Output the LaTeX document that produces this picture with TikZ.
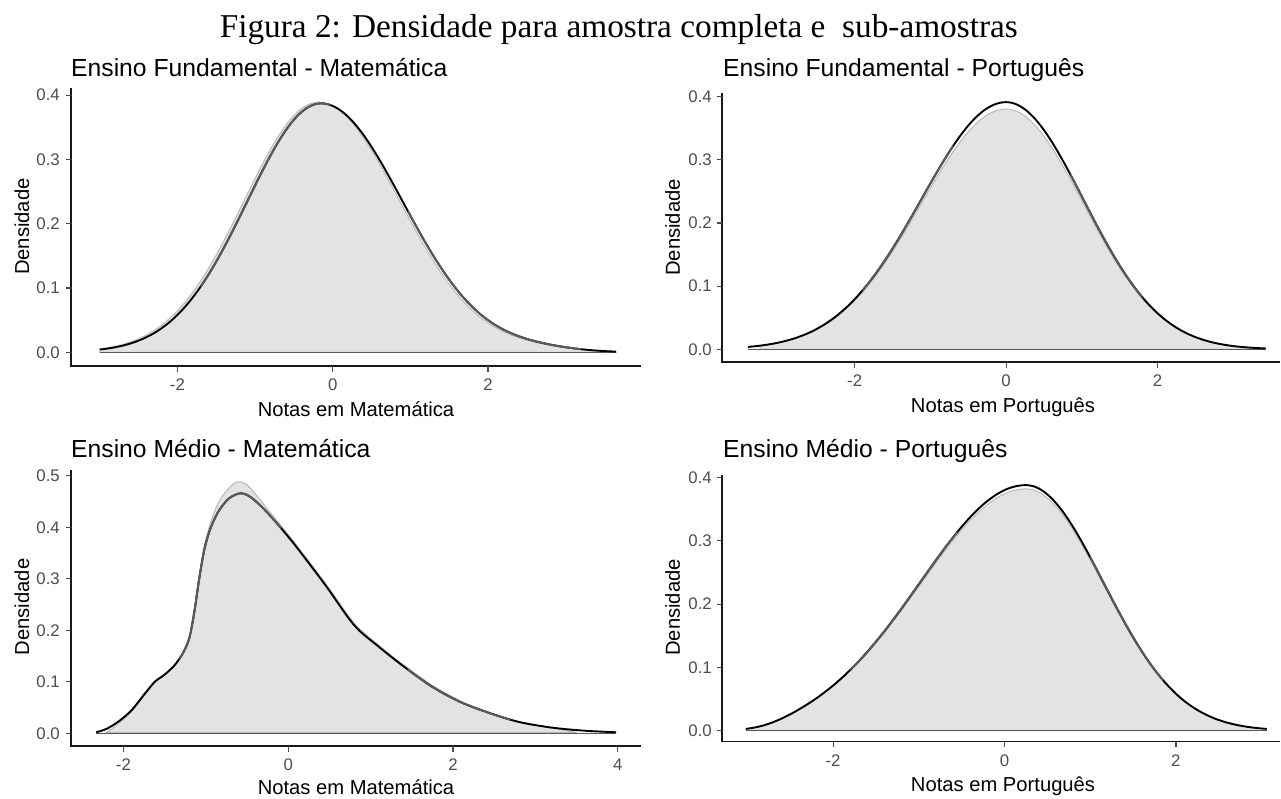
\documentclass[tikz,border=0pt]{standalone}
\usepackage{fontspec}
\setmainfont{Liberation Serif}
\setsansfont{Liberation Sans}
\definecolor{fillg}{RGB}{227,227,227}
\definecolor{edgeg}{RGB}{185,185,185}
\definecolor{lineg}{RGB}{90,90,90}
\definecolor{tickg}{RGB}{77,77,77}
\definecolor{axisc}{RGB}{25,25,25}
\newcommand\FunA{sn(\x,-0.15,0.95,1.05,0.387)+0.005*gs((\x-2.6)/0.5)}
\newcommand\FunAf{sn(\x,-0.18,0.96,1.04,0.389)+0.005*gs((\x-2.6)/0.5)}
\newcommand\FunB{sn(\x,0,1.12,1.02,0.391)}
\newcommand\FunBf{sn(\x,0,1.12,1.02,0.380)}
\newcommand\FunD{sn(\x,0.25,1.23,0.9,0.388)/(1+exp(-5*(\x+2.8)))}
\newcommand\FunDf{sn(\x,0.25,1.23,0.9,0.382)/(1+exp(-5*(\x+2.8)))}
\newcommand\CurC{(-2.33,0.002) (-2.2,0.009) (-2.05,0.024) (-1.9,0.045) (-1.75,0.075) (-1.62,0.1) (-1.5,0.114) (-1.38,0.132) (-1.28,0.155) (-1.2,0.185) (-1.14,0.235) (-1.08,0.3) (-1.02,0.355) (-0.95,0.395) (-0.85,0.43) (-0.72,0.456) (-0.58,0.466) (-0.45,0.458) (-0.25,0.428) (0.05,0.372) (0.45,0.288) (0.8,0.21) (1.1,0.168) (1.4,0.13) (1.75,0.09) (2.1,0.06) (2.45,0.039) (2.8,0.022) (3.2,0.011) (3.6,0.005) (3.98,0.002)}
\newcommand\CurCf{(-2.2,0.002) (-2.05,0.02) (-1.9,0.042) (-1.75,0.072) (-1.62,0.098) (-1.5,0.113) (-1.38,0.131) (-1.28,0.155) (-1.2,0.186) (-1.14,0.238) (-1.08,0.305) (-1.02,0.362) (-0.95,0.405) (-0.85,0.447) (-0.72,0.476) (-0.62,0.488) (-0.52,0.485) (-0.4,0.465) (-0.25,0.435) (0.05,0.376) (0.45,0.292) (0.8,0.214) (1.1,0.171) (1.4,0.133) (1.75,0.093) (2.1,0.062) (2.45,0.04) (2.8,0.023) (3.2,0.011) (3.5,0.002)}
\begin{document}
\begin{tikzpicture}[x=1pt,y=-1pt,
  declare function={
    gs(\z)=exp(-0.5*\z*\z);
    sn(\xx,\mA,\sL,\sR,\pK)=\pK*gs((\xx-\mA)/(\sL+(\sR-\sL)*(\xx>\mA)));
  },
  mtitle/.style={font=\fontsize{33.3}{34}\selectfont, anchor=base, inner sep=0},
  ptitle/.style={font=\sffamily\fontsize{24.7}{25}\selectfont, anchor=base west, inner sep=0},
  ylab/.style={font=\sffamily\fontsize{16.8}{17}\selectfont, text=tickg, anchor=east, inner sep=0},
  xlab/.style={font=\sffamily\fontsize{16.8}{17}\selectfont, text=tickg, anchor=base, inner sep=0},
  atitle/.style={font=\sffamily\fontsize{20.2}{20}\selectfont, anchor=base, inner sep=0},
  ytitle/.style={font=\sffamily\fontsize{20.2}{20}\selectfont, rotate=90, inner sep=0},
  axisline/.style={draw=axisc, line width=1.4pt},
  tickline/.style={draw=tickg, line width=1.2pt},
  dfill/.style={fill=fillg, draw=edgeg, line width=1pt},
  gline/.style={draw=lineg, line width=1.9pt, line join=round},
  bline/.style={draw=black, line width=1.9pt, line join=round},
  zeroline/.style={draw=lineg, line width=1.4pt}
]
\useasboundingbox (0,0) rectangle (1281,798);
\fill[white] (0,0) rectangle (1281,798);

\node[mtitle] (fig) at (618.8,37.7) {Figura 2: Densidade para amostra completa e\ \ sub-amostras};

% ---------------- Panel 1 ----------------
\node[ptitle] (t1) at (71,76) {Ensino Fundamental - Matemática};
\begin{scope}[shift={(332.7,352.3)}, xscale=77.65, yscale=-643]
  \path[dfill] (-3,0) -- plot[domain=-3:3.65,samples=180] (\x,{\FunAf}) -- (3.65,0) -- cycle;
  \draw[zeroline] (-3,0) -- (3.65,0);
  \draw[bline] plot[domain=-3:3.65,samples=180] (\x,{\FunA});
  \begin{scope}
    \clip (-1.7,-0.1) rectangle (-0.03,0.5) (0.97,-0.1) rectangle (3.2,0.5);
    \draw[gline] plot[domain=-3:3.65,samples=180] (\x,{\FunA});
  \end{scope}
\end{scope}
\draw[axisline] (71,88) |- (641,366);
\foreach \k in {0,...,4}{
  \draw[tickline] (65.5,{352.3-64.3*\k}) -- (71,{352.3-64.3*\k});
  \node[ylab] (p1y\k) at (60,{352.3-64.3*\k}) {0.\k};
}
\foreach \v/\t [count=\i] in {-2/-2,0/0,2/2}{
  \draw[tickline] ({332.7+77.65*\v},366) -- ({332.7+77.65*\v},371.5);
  \node[xlab] (p1x\i) at ({332.7+77.65*\v},390) {\t};
}
\node[atitle] (p1xt) at (356,416.7) {Notas em Matemática};
\node[ytitle] (p1yt) at (22,226.7) {Densidade};

% ---------------- Panel 2 ----------------
\node[ptitle] (t2) at (723,76) {Ensino Fundamental - Português};
\begin{scope}[shift={(1006.1,349.3)}, xscale=75.7, yscale=-632]
  \path[dfill] (-3.25,0) -- plot[domain=-3.25:3.3,samples=180] (\x,{\FunBf}) -- (3.3,0) -- cycle;
  \draw[zeroline] (-3.41,0) -- (3.43,0);
  \draw[bline] plot[domain=-3.41:3.43,samples=180] (\x,{\FunB});
  \begin{scope}
    \clip (-1.9,-0.1) rectangle (-0.7,0.5) (0.85,-0.1) rectangle (1.8,0.5);
    \draw[gline] plot[domain=-3.41:3.43,samples=180] (\x,{\FunB});
  \end{scope}
\end{scope}
\draw[axisline] (722,93) |- (1280,362);
\foreach \k in {0,...,4}{
  \draw[tickline] (716.5,{349.3-63.2*\k}) -- (722,{349.3-63.2*\k});
  \node[ylab] (p2y\k) at (712,{349.3-63.2*\k}) {0.\k};
}
\foreach \v/\t [count=\i] in {-2/-2,0/0,2/2}{
  \draw[tickline] ({1006.1+75.7*\v},362) -- ({1006.1+75.7*\v},367.5);
  \node[xlab] (p2x\i) at ({1006.1+75.7*\v},386.7) {\t};
}
\node[atitle] (p2xt) at (1003,412) {Notas em Português};
\node[ytitle] (p2yt) at (672.7,227.5) {Densidade};

% ---------------- Panel 3 ----------------
\node[ptitle] (t3) at (71,457) {Ensino Médio - Matemática};
\begin{scope}[shift={(288.2,733.3)}, xscale=82.4, yscale=-515]
  \path[dfill] plot[smooth] coordinates {\CurCf} -- cycle;
  \draw[zeroline] (-2.33,0) -- (3.98,0);
  \draw[bline] plot[smooth] coordinates {\CurC};
  \begin{scope}
    \clip (-1.32,-0.1) rectangle (-0.09,0.6) (1.45,-0.1) rectangle (2.7,0.6);
    \draw[gline] plot[smooth] coordinates {\CurC};
  \end{scope}
\end{scope}
\draw[axisline] (71,470) |- (641,746);
\foreach \k in {0,...,5}{
  \draw[tickline] (65.5,{733.3-51.5*\k}) -- (71,{733.3-51.5*\k});
  \node[ylab] (p3y\k) at (60,{733.3-51.5*\k}) {0.\k};
}
\foreach \v/\t [count=\i] in {-2/-2,0/0,2/2,4/4}{
  \draw[tickline] ({288.2+82.4*\v},746) -- ({288.2+82.4*\v},751.5);
  \node[xlab] (p3x\i) at ({288.2+82.4*\v},770) {\t};
}
\node[atitle] (p3xt) at (356,794) {Notas em Matemática};
\node[ytitle] (p3yt) at (22,607) {Densidade};

% ---------------- Panel 4 ----------------
\node[ptitle] (t4) at (723,457) {Ensino Médio - Português};
\begin{scope}[shift={(1004.5,730.7)}, xscale=85.7, yscale=-633]
  \path[dfill] (-2.95,0) -- plot[domain=-2.95:2.95,samples=180] (\x,{\FunDf}) -- (2.95,0) -- cycle;
  \draw[zeroline] (-3.02,0) -- (3.06,0);
  \draw[bline] plot[domain=-3.02:3.06,samples=180] (\x,{\FunD});
  \begin{scope}
    \clip (-1.8,-0.1) rectangle (-0.55,0.5) (1.0,-0.1) rectangle (1.85,0.5);
    \draw[gline] plot[domain=-3.02:3.06,samples=180] (\x,{\FunD});
  \end{scope}
\end{scope}
\draw[axisline] (722,475) |- (1280,741.7);
\foreach \k in {0,...,4}{
  \draw[tickline] (716.5,{730.7-63.3*\k}) -- (722,{730.7-63.3*\k});
  \node[ylab] (p4y\k) at (712,{730.7-63.3*\k}) {0.\k};
}
\foreach \v/\t [count=\i] in {-2/-2,0/0,2/2}{
  \draw[tickline] ({1004.5+85.7*\v},741.7) -- ({1004.5+85.7*\v},747.2);
  \node[xlab] (p4x\i) at ({1004.5+85.7*\v},766.7) {\t};
}
\node[atitle] (p4xt) at (1003,791.7) {Notas em Português};
\node[ytitle] (p4yt) at (672.7,607.5) {Densidade};
\end{tikzpicture}
\end{document}
